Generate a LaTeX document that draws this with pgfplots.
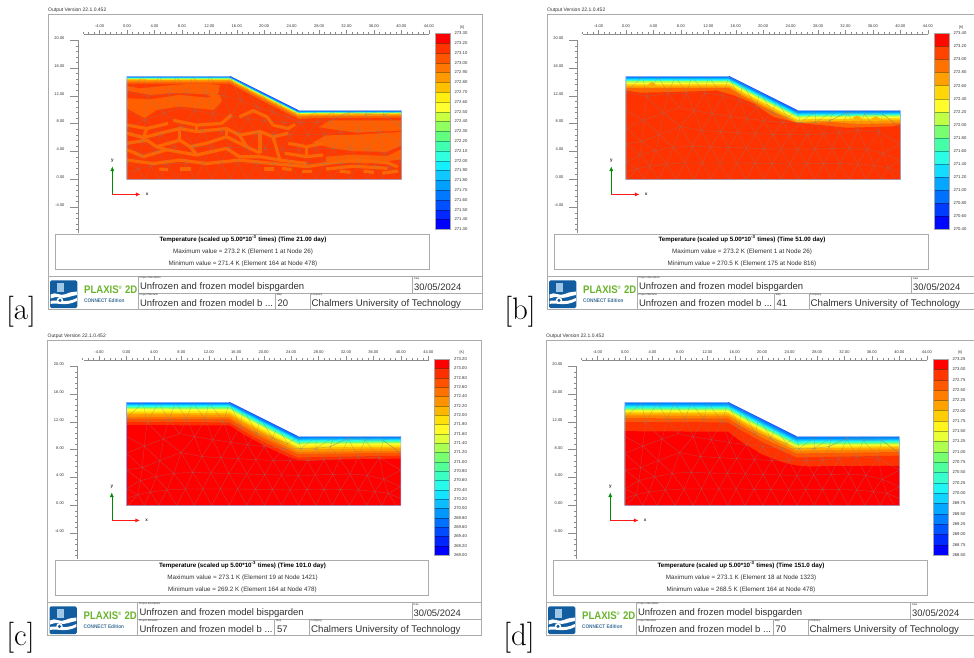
\documentclass[border=0pt]{standalone}
\usepackage{fontspec}
\usepackage{pgfplots}
\pgfplotsset{compat=1.18}
\usetikzlibrary{arrows.meta}
\newfontfamily\arial{Liberation Sans}
\newcommand\fs[1]{\fontsize{#1}{#1}\selectfont}
\pgfplotsset{colormap={pl}{rgb255(0)=(255,0,0) rgb255(25)=(255,0,0) rgb255(75)=(255,51,0) rgb255(125)=(255,85,0) rgb255(175)=(255,119,0) rgb255(225)=(255,153,0) rgb255(275)=(255,192,0) rgb255(325)=(255,238,16) rgb255(375)=(255,255,48) rgb255(425)=(200,255,64) rgb255(475)=(144,255,96) rgb255(525)=(96,255,128) rgb255(575)=(64,255,176) rgb255(625)=(48,255,224) rgb255(675)=(21,240,255) rgb255(725)=(16,200,255) rgb255(775)=(0,160,255) rgb255(825)=(0,120,255) rgb255(875)=(0,80,255) rgb255(925)=(0,40,255) rgb255(975)=(0,0,255) rgb255(1000)=(0,0,255)}}
\definecolor{fr}{HTML}{ABABAB}
\definecolor{rul}{HTML}{8C8C8C}
\definecolor{txt}{HTML}{303030}
\definecolor{modelb}{HTML}{8FA6F2}
\definecolor{webc}{RGB}{255,102,0}
\pgfplotsset{
  panel/.style={
    scale only axis,width=351pt,height=198.4pt,anchor=south west,clip=false,
    xmin=-7.14,xmax=44.03,ymin=-7.67,ymax=20.83,
    axis x line*=top,axis y line*=left,
    x axis line style={draw=rul,line width=.35pt,shorten <=6pt},
    y axis line style={draw=rul,line width=.35pt,shorten >=5.8pt},
    tick style={draw=rul,line width=.3pt},
    xtick={-6.4,-5.6,...,44},ytick={-7.2,-6.4,...,20},
    xticklabels={},yticklabels={},
    minor tick num=0,tick align=outside,
    major tick length=2.4pt,
    extra x ticks={-4,0,...,44},
    extra x tick style={major tick length=4pt},
    extra y ticks={-4,0,...,20},
    extra y tick style={major tick length=7.6pt},
    tick label style={font=\arial\fs{4},text=txt},
    xticklabel style={yshift=-.5pt},
    yticklabel style={xshift=-2.4pt,yshift=2pt},
    /pgf/number format/.cd,fixed,fixed zerofill,precision=2,assume math mode=true,1000 sep={},
    /pgfplots/.cd,
    y filter/.expression={0.986*y},
    no markers,
  },
  web/.style={draw=webc,line width=3.2pt,line join=round},
  blob/.style={color of colormap={#1 of pl},fill=.,draw=none},
  mesh line/.style={draw=gray,opacity=.55,line width=.32pt},
}
\newcommand\band[2]{\addplot[color of colormap={#1 of pl},fill=.,draw=none] coordinates {#2 (40,0) (0,0)} -- cycle;}
\newcommand\surfacefill{\addplot[color of colormap={810 of pl},fill=.,draw=none] coordinates {(0,0)(0,15)(15,15)(25,10)(40,10)(40,0)} -- cycle;}
\newcommand\finish{%
  \addplot[mesh line] coordinates {(0,1)(1.65,1.55)(3.5,1.94)(5.9,2.23)(8.6,2.38)(11.15,2.38)(13.7,2.38)(16.2,2.38)(18.8,2.33)(21.3,2.28)(23.85,2.23)(26.3,2.28)(28.8,2.33)(31.2,2.28)(33.8,2.23)(36.2,2)(38.15,1.75)(40,1)};
  \addplot[mesh line] coordinates {(0,2.43)(2.04,3.6)(4.3,4.17)(6.9,4.66)(9.65,4.8)(12.3,4.7)(14.9,4.66)(17.55,4.56)(20.15,4.47)(22.6,4.42)(25.06,4.37)(27.5,4.42)(30.05,4.5)(32.6,4.56)(35.1,4.37)(37.5,3.8)(40,2.7)};
  \addplot[mesh line] coordinates {(0,5.15)(2.3,5.5)(4.85,6.5)(7.95,7.7)(11,7.1)(13.8,6.94)(16.3,6.8)(18.9,6.65)(21.4,6.55)(23.85,6.5)(26.4,6.5)(28.8,6.6)(31.1,6.8)(33.8,7.1)(36.9,6.9)(40,5.15)};
  \addplot[mesh line] coordinates {(0,7.57)(2.6,8.64)(5.4,9.66)(7.75,10.44)(9.94,10)(12.6,9.56)(15.2,9.17)(17.64,8.83)(20.07,8.54)(22.9,8.3)(25.4,8.25)(27.6,8.3)(29.7,8.54)(32.3,9.7)(34.75,9.5)(37.4,9.5)(40,7.57)};
  \addplot[mesh line] coordinates {(0,12.7)(3,12.1)(6.15,12.5)(8.8,12.57)(11.5,12.57)(14.15,12.2)(16.6,11.5)(19,10.5)(21.3,9.8)(23.5,9)(25.4,8.25)};
  \addplot[mesh line] coordinates {(0,12.7)(2.4,15)(3,12.1)(4.7,15)(6.15,12.5)(7.2,15)(8.8,12.57)(9.6,15)(11.5,12.57)(12,15)(14.15,12.2)(15,15)(16.6,11.5)(17,14)(19,10.5)(19.5,12.75)(21.3,9.8)(22,11.5)(23.5,9)(25,10)(25.4,8.25)(27.7,10)(27.6,8.3)(30.3,10)(29.7,8.54)(32.5,10)(32.3,9.7)(35,10)(34.75,9.5)(37.5,10)(37.4,9.5)(40,10)};
  \addplot[mesh line] coordinates {(0,10)(2.6,8.64)(3,12.1)(5.4,9.66)(6.15,12.5)(7.75,10.44)(8.8,12.57)(9.94,10)(11.5,12.57)(12.6,9.56)(14.15,12.2)(15.2,9.17)(16.6,11.5)(17.64,8.83)(19,10.5)(20.07,8.54)(21.3,9.8)(22.9,8.3)(23.5,9)};
  \addplot[mesh line] coordinates {(0,7.57)(2.3,5.5)(2.6,8.64)(4.85,6.5)(5.4,9.66)(7.95,7.7)(9.94,10)(11,7.1)(12.6,9.56)(13.8,6.94)(15.2,9.17)(16.3,6.8)(17.64,8.83)(18.9,6.65)(20.07,8.54)(21.4,6.55)(22.9,8.3)(23.85,6.5)(25.4,8.25)(26.4,6.5)(27.6,8.3)(28.8,6.6)(29.7,8.54)(31.1,6.8)(32.3,9.7)(33.8,7.1)(34.75,9.5)(36.9,6.9)(37.4,9.5)(40,7.57)};
  \addplot[mesh line] coordinates {(0,5.15)(2.04,3.6)(2.3,5.5)(4.3,4.17)(4.85,6.5)(6.9,4.66)(7.95,7.7)(9.65,4.8)(11,7.1)(12.3,4.7)(13.8,6.94)(14.9,4.66)(16.3,6.8)(17.55,4.56)(18.9,6.65)(20.15,4.47)(21.4,6.55)(22.6,4.42)(23.85,6.5)(25.06,4.37)(26.4,6.5)(27.5,4.42)(28.8,6.6)(30.05,4.5)(31.1,6.8)(32.6,4.56)(33.8,7.1)(35.1,4.37)(36.9,6.9)(37.5,3.8)(40,5.15)};
  \addplot[mesh line] coordinates {(0,2.43)(1.65,1.55)(2.04,3.6)(3.5,1.94)(4.3,4.17)(5.9,2.23)(6.9,4.66)(8.6,2.38)(9.65,4.8)(11.15,2.38)(12.3,4.7)(13.7,2.38)(14.9,4.66)(16.2,2.38)(17.55,4.56)(18.8,2.33)(20.15,4.47)(21.3,2.28)(22.6,4.42)(23.85,2.23)(25.06,4.37)(26.3,2.28)(27.5,4.42)(28.8,2.33)(30.05,4.5)(31.2,2.28)(32.6,4.56)(33.8,2.23)(35.1,4.37)(36.2,2)(37.5,3.8)(38.15,1.75)(40,2.7)};
  \addplot[mesh line] coordinates {(0.2,0)(1.65,1.55)(2.6,0)(3.5,1.94)(4.7,0)(5.9,2.23)(7.3,0)(8.6,2.38)(9.9,0)(11.15,2.38)(12.4,0)(13.7,2.38)(15,0)(16.2,2.38)(17.5,0)(18.8,2.33)(20.1,0)(21.3,2.28)(22.6,0)(23.85,2.23)(25.1,0)(26.3,2.28)(27.6,0)(28.8,2.33)(30,0)(31.2,2.28)(32.5,0)(33.8,2.23)(35,0)(36.2,2)(37.2,0)(38.15,1.75)(39.3,0)};
  \addplot[draw=modelb,line width=.6pt] coordinates {(0,0)(0,15)(15,15)(25,10)(40,10)(40,0)} -- cycle;
  \addplot[draw={rgb,255:red,20;green,80;blue,255},line width=.8pt] coordinates {(15,15)(25,10)};
  \addplot[draw=green!55!black,line width=.35pt,-{Latex[length=4.5pt,width=4pt]}] coordinates {(-2.14,-2.2)(-2.14,1.85)};
  \addplot[draw=red!90!white,line width=.35pt,-{Latex[length=4.5pt,width=4pt]}] coordinates {(-2.14,-2.2)(1.95,-2.2)};
  \node[font=\arial\bfseries\fs{4.6},text=txt] at (axis cs:-2.14,2.6) {y};
  \node[font=\arial\bfseries\fs{4.6},text=txt] at (axis cs:2.95,-2.2) {x};
}
\newcommand\cbar[5]{%
\begin{axis}[at={(#1pt,-#2pt)},anchor=south west,scale only axis,width=15.3pt,height=196pt,
  xmin=0,xmax=1,ymin=0,ymax=#3,clip=false,axis x line=none,axis y line*=right,
  y axis line style={draw=none},major tick length=0pt,
  ytick={0,...,#3},yticklabels={#4},
  yticklabel style={font=\arial\fs{4.2},text=txt,anchor=west,xshift=1pt},
  no markers]
\foreach \i in {1,...,#3}{%
  \pgfmathsetmacro\tval{(\i-0.5)/#3*1000}%
  \pgfmathtruncatemacro\lo{#3-\i}%
  \pgfmathtruncatemacro\hi{#3-\i+1}%
  \edef\temp{\noexpand\addplot[color of colormap={\tval\space of pl},fill=.,draw=.!65!black,line width=.25pt] coordinates {(0,\lo)(1,\lo)(1,\hi)(0,\hi)} -- cycle;}\temp
}
\draw[draw=gray!70,line width=.4pt] (axis cs:0,0) rectangle (axis cs:1,#3);
\node[font=\arial\fs{3.6},text=txt,anchor=west] at ([xshift=6.5pt,yshift=6pt]axis cs:1,#3) {[K]};
\end{axis}}
\newcommand\chrome[7]{%
\begin{scope}[shift={(#1pt,-#2pt)},x=1pt,y=-1pt]
  \draw[fr,line width=.7pt] (48,14) rectangle (482,309);
  \draw[fr,line width=.7pt] (55.7,234.3) rectangle (429.3,269.3);
  \draw[fr,line width=.7pt] (48,276.3)--(482,276.3) (138.3,293)--(482,293) (138.3,276.3)--(138.3,309) (412.7,276.3)--(412.7,293) (275.3,293)--(275.3,309) (310,293)--(310,309);
  \node[anchor=west,inner sep=0,font=\arial\fs{5},text=txt] at (48,10.3) {Output Version 22.1.0.452};
  \node[inner sep=0,font=\arial\bfseries\fs{6.2},text=black] at (243,239) {Temperature (scaled up 5.00*10\textsuperscript{-3} times) (Time #3 day)};
  \node[inner sep=0,font=\arial\fs{6.3},text=txt] at (243,252.3) {#4};
  \node[inner sep=0,font=\arial\fs{6.3},text=txt] at (243,264.3) {#5};
  \node[anchor=west,inner sep=0,font=\arial\fs{2.6},text=txt] at (139.3,278.2) {Project description};
  \node[anchor=west,inner sep=0,font=\arial\fs{2.6},text=txt] at (139.3,295) {Project filename};
  \node[anchor=west,inner sep=0,font=\arial\fs{2.6},text=txt] at (276.3,295) {Step};
  \node[anchor=west,inner sep=0,font=\arial\fs{2.6},text=txt] at (311,295) {Company};
  \node[anchor=west,inner sep=0,font=\arial\fs{2.6},text=txt] at (413.7,278.2) {Date};
  \node[anchor=west,inner sep=0,font=\arial\fs{9.5},text=txt] at (139.8,286.8) {Unfrozen and frozen model bispgarden};
  \node[anchor=west,inner sep=0,font=\arial\fs{9.4},text=txt] at (414,286.8) {30/05/2024};
  \node[anchor=west,inner sep=0,font=\arial\fs{9.5},text=txt] at (139.8,303.5) {Unfrozen and frozen model b ...};
  \node[anchor=west,inner sep=0,font=\arial\fs{9.5},text=txt] at (277.3,303.5) {#6};
  \node[anchor=west,inner sep=0,font=\arial\fs{9.7},text=txt] at (311.5,303.5) {Chalmers University of Technology};
  % logo
  \fill[rounded corners=1.5pt,fill={rgb,255:red,18;green,92;blue,160}] (50,280.3) rectangle (77.3,308);
  \fill[fill={rgb,255:red,160;green,200;blue,230}] (57,282.5) rectangle (64,292);
  \fill[white] (50.5,294.5) .. controls (56,291) and (60,297) .. (66,294) .. controls (70,292) and (73,292) .. (76.8,291.5) -- (76.8,295) .. controls (70,296) and (66,299) .. (60,297.5) .. controls (56,296.5) and (53,297.5) .. (50.5,298.5) -- cycle;
  \fill[white] (50.5,301) .. controls (56,299) and (66,304) .. (76.8,298) -- (76.8,301) .. controls (66,307) and (56,302) .. (50.5,304) -- cycle;
  \fill[white] (60,300.3) circle (3.2);
  \fill[fill={rgb,255:red,18;green,92;blue,160}] (60,300.3) circle (1.7);
  \node[anchor=west,inner sep=0,font=\arial\bfseries\fs{11},xscale=.87,text={rgb,255:red,106;green,180;blue,45}] at (84,290) {PLAXIS\textsuperscript{\fs{5}®} 2D};
  \node[anchor=west,inner sep=0,font=\arial\bfseries\fs{5.2},xscale=.9,text={rgb,255:red,60;green,110;blue,150}] at (84,300.8) {CONNECT Edition};
  \node[inner sep=0,font=\fs{31}] at (21,312) {[#7]};
\end{scope}}
\begin{document}
\begin{tikzpicture}
\path[use as bounding box] (0,0) rectangle (974pt,-657pt);
\chrome{0}{0}{21.00}{Maximum value = 273.2 K (Element 1 at Node 26)}{Minimum value = 271.4 K (Element 164 at Node 478)}{20}{a}
\chrome{499}{0}{51.00}{Maximum value = 273.2 K (Element 1 at Node 26)}{Minimum value = 270.5 K (Element 175 at Node 816)}{41}{b}
\chrome{-.5}{326}{101.0}{Maximum value = 273.1 K (Element 19 at Node 1421)}{Minimum value = 269.2 K (Element 164 at Node 478)}{57}{c}
\chrome{498}{326}{151.0}{Maximum value = 273.1 K (Element 18 at Node 1323)}{Minimum value = 268.5 K (Element 164 at Node 478)}{70}{d}
% panel a
\begin{axis}[panel,at={(78pt,-232.7pt)}]
\surfacefill
\band{720}{(0,14.84)(15,14.84)(17,13.82)(20,12.32)(23,10.82)(25,9.82)(27,9.83)(40,9.84)}
\band{560}{(0,14.76)(15,14.76)(17,13.74)(20,12.22)(23,10.72)(25,9.72)(27,9.75)(40,9.77)}
\band{400}{(0,14.68)(15,14.67)(17,13.65)(20,12.13)(23,10.63)(25,9.63)(27,9.66)(40,9.69)}
\band{280}{(0,14.58)(15,14.57)(17,13.54)(20,12.02)(23,10.52)(25,9.52)(27,9.56)(40,9.59)}
\band{220}{(0,14.45)(15,14.44)(17,13.4)(20,11.87)(23,10.37)(25,9.37)(27,9.42)(40,9.47)}
\band{150}{(0,14.25)(15,14.24)(17,13.18)(20,11.64)(23,10.14)(25,9.14)(27,9.21)(40,9.27)}
\band{85}{(0,13.95)(15,13.93)(17,12.85)(20,11.29)(23,9.79)(25,8.79)(27,8.9)(40,8.98)}
\addplot[blob=140] coordinates {(0,13.6)(1.9,13.25)(6.75,13.74)(10.6,14)(13.55,13.74)(13.1,11.55)(11.6,12.4)(6.75,12.6)(3.35,12.3)(0,12.9)} -- cycle;
\addplot[blob=140] coordinates {(0,11.8)(3.35,11.65)(7.7,12.3)(11.6,11.9)(13.55,12.3)(13.8,11.3)(12.6,10.1)(7.7,10.6)(4.3,10.1)(2.6,8.9)(0,10.3)} -- cycle;
\addplot[blob=140] coordinates {(29.6,8.6)(40,8.6)(40,7.1)(33.5,6.8)(30.5,7.2)(28,7.6)} -- cycle;
\addplot[blob=140] coordinates {(29,6.4)(33.5,6.5)(40,6.9)(40,4.9)(37.85,4)(33,4.1)(30,4.5)(27,5.3)} -- cycle;
\addplot[blob=140] coordinates {(29,3.3)(33,3.6)(38,3.4)(40,4.4)(40,2.9)(35,2.3)(29,2.6)} -- cycle;
\addplot[web] coordinates {(0,7.9)(2.9,7.4)(6,8.15)};
\addplot[web] coordinates {(6.75,8.6)(10.15,7.9)(13.8,8.15)(15.25,9.4)};
\addplot[web] coordinates {(0,6.7)(2.4,6.1)(4.8,6.7)(7.7,7.4)(10.15,6.95)(14.5,7.4)(16.4,6.45)(19.4,6.95)(21.3,6.2)(23.5,6.7)};
\addplot[web] coordinates {(0,5.25)(2.9,5.7)(4.3,4.75)(7.7,5.7)(9.2,4.75)(11.6,5.25)(14.5,6.2)(17.45,4.75)(19.4,3.8)};
\addplot[web] coordinates {(0,4.3)(2.4,3.3)(5.8,4.3)(10.15,3.55)(14.5,4.5)(16.4,3.3)(19.4,3.3)(22.3,2.8)(26.2,2.3)};
\addplot[web] coordinates {(0,2.8)(3.85,2.3)(7.7,2.8)(11.6,2.3)(16.4,2.8)(21.3,2.3)(26.2,1.85)(29.1,2.3)(33.5,2.8)};
\addplot[web] coordinates {(16.4,9.1)(18.4,10)(20.4,9.1)(21.3,7.9)(23.5,7.4)(24.5,8)};
\addplot[web] coordinates {(23.5,5.25)(26.2,4.75)(28.6,5.25)};
\addplot[web] coordinates {(23,3.8)(26.2,3.3)(28.6,3.55)};
\addplot[web] coordinates {(2.9,7.4)(2.4,6.1)};
\addplot[web] coordinates {(7.7,7.4)(7.7,5.7)};
\addplot[web] coordinates {(10.15,7.9)(10.15,6.95)};
\addplot[web] coordinates {(14.5,7.4)(14.5,6.2)};
\addplot[web] coordinates {(4.3,4.75)(5.8,4.3)};
\addplot[web] coordinates {(9.2,4.75)(10.15,3.55)};
\addplot[web] coordinates {(19.4,6.95)(19.4,3.8)};
\addplot[web] coordinates {(21.3,6.2)(22.3,2.8)};
\addplot[web] coordinates {(16.4,6.45)(17.45,4.75)};
\addplot[web] coordinates {(26.2,4.75)(26.2,3.3)};
\addplot[web] coordinates {(33.5,2.8)(38,2.4)(39.5,1.8)};
\addplot[web] coordinates {(29,1.5)(33,1.9)(38,1.6)};
\addplot[web] coordinates {(4.7,1.5)(6,1.4)};
\addplot[web] coordinates {(7.7,1.5)(9.4,1.5)};
\addplot[web] coordinates {(20,1.5)(21.4,1.5)};
\addplot[web] coordinates {(22.6,1.6)(24,1.4)};
\addplot[web] coordinates {(25.5,1.1)(27,1.1)};
\addplot[web] coordinates {(31,1.2)(32.6,1)};
\addplot[web] coordinates {(34.5,1.2)(36,1)};
\addplot[web] coordinates {(37.2,.9)(39.5,1.2)};
\finish
\end{axis}
\cbar{434.7}{229.3}{20}{271.30,271.40,271.50,271.60,271.70,271.80,271.90,272.00,272.10,272.20,272.30,272.40,272.50,272.60,272.70,272.80,272.90,273.00,273.10,273.20,273.30}{}
% panel b
\begin{axis}[panel,at={(577pt,-232.7pt)}]
\surfacefill
\band{750}{(0,14.75)(15,14.75)(17,13.73)(20,12.21)(23,10.71)(25,9.71)(27,9.74)(40,9.76)}
\band{690}{(0,14.6)(15,14.59)(17,13.56)(20,12.04)(23,10.54)(25,9.54)(27,9.58)(40,9.61)}
\band{600}{(0,14.45)(15,14.44)(17,13.4)(20,11.87)(23,10.37)(25,9.37)(27,9.42)(40,9.47)}
\band{450}{(0,14.3)(15,14.29)(17,13.23)(20,11.7)(23,10.2)(25,9.2)(27,9.27)(40,9.32)}
\band{370}{(0,14.1)(15,14.08)(17,13.01)(20,11.47)(23,9.97)(25,8.97)(27,9.06)(40,9.13)}
\band{280}{(0,13.85)(15,13.83)(17,12.74)(20,11.18)(23,9.68)(25,8.68)(27,8.79)(40,8.88)}
\band{220}{(0,13.55)(15,13.52)(17,12.41)(20,10.83)(23,9.33)(25,8.33)(27,8.48)(40,8.59)}
\band{150}{(0,13.3)(15,13.27)(17,12.13)(20,10.55)(23,9.05)(25,8.15)(27,8.22)(30,8.35)(34,8.05)(40,8.2)}
\band{75}{(0,12.96)(2,12.62)(5.9,12.7)(11.8,12.87)(13.2,12.96)(15.7,12.23)(18.6,11.03)(21.5,9.08)(24.9,8.25)(28.8,7.86)(32.2,7.52)(36.1,7.62)(39,7.72)(40,8)}
\addplot[blob=260] coordinates {(3.1,13.7)(3.8,14.2)(4.5,13.7)(3.8,13.3)} -- cycle;
\addplot[blob=260] coordinates {(33,8.9)(33.7,9.3)(34.4,8.9)(33.7,8.5)} -- cycle;
\addplot[blob=260] coordinates {(35.7,8.8)(36.4,9.2)(37.1,8.8)(36.4,8.3)} -- cycle;
\finish
\end{axis}
\cbar{933.7}{229.3}{15}{270.40,270.60,270.80,271.00,271.20,271.40,271.60,271.80,272.00,272.20,272.40,272.60,272.80,273.00,273.20,273.40}{}
% panel c
\begin{axis}[panel,at={(77.5pt,-558.7pt)}]
\surfacefill
\band{750}{(0,14.75)(15,14.75)(17,13.73)(20,12.21)(23,10.71)(25,9.71)(27,9.74)(40,9.76)}
\band{690}{(0,14.6)(15,14.59)(17,13.56)(20,12.04)(23,10.54)(25,9.54)(27,9.58)(40,9.61)}
\band{620}{(0,14.45)(15,14.44)(17,13.4)(20,11.87)(23,10.37)(25,9.37)(27,9.42)(40,9.47)}
\band{540}{(0,14.3)(15,14.29)(17,13.23)(20,11.7)(23,10.2)(25,9.2)(27,9.27)(40,9.32)}
\band{450}{(0,14.15)(15,14.13)(17,13.07)(20,11.52)(23,10.02)(25,9.02)(27,9.11)(40,9.18)}
\band{370}{(0,14)(15,13.98)(17,12.9)(20,11.35)(23,9.85)(25,8.85)(27,8.95)(40,9.03)}
\band{320}{(0,13.75)(15,13.73)(17,12.63)(20,11.06)(23,9.56)(25,8.56)(27,8.69)(40,8.79)}
\band{270}{(0,13.5)(15,13.47)(17,12.35)(20,10.78)(23,9.28)(25,8.3)(27,8.43)(40,8.55)}
\band{220}{(0,13.25)(15,13.22)(17,12.08)(20,10.49)(23,9.05)(25,8.1)(27,8.16)(40,8.3)}
\band{170}{(0,12.9)(15,12.86)(17,11.69)(20,10.09)(23,8.7)(25,7.75)(27,7.8)(40,7.96)}
\band{120}{(0,12.6)(15,12.55)(17,11.36)(20,9.74)(23,8.35)(25,7.45)(27,7.48)(40,7.67)}
\band{70}{(0,12.15)(15,12.09)(17,10.87)(20,9.22)(23,7.85)(25,6.95)(27,7.01)(40,7.24)}
\band{15}{(0,11.7)(15,11.63)(17,10.37)(20,8.7)(23,7.3)(25,6.55)(27,6.5)(29,6.65)(40,6.8)}
\finish
\end{axis}
\cbar{434.2}{555}{21}{269.00,269.20,269.40,269.60,269.80,270.00,270.20,270.40,270.60,270.80,271.00,271.20,271.40,271.60,271.80,272.00,272.20,272.40,272.60,272.80,273.00,273.20}{}
% panel d
\begin{axis}[panel,at={(576pt,-558.7pt)}]
\surfacefill
\band{760}{(0,14.7)(15,14.69)(17,13.67)(20,12.16)(23,10.66)(25,9.66)(27,9.69)(40,9.71)}
\band{720}{(0,14.55)(15,14.54)(17,13.51)(20,11.98)(23,10.48)(25,9.48)(27,9.53)(40,9.56)}
\band{650}{(0,14.4)(15,14.39)(17,13.34)(20,11.81)(23,10.31)(25,9.31)(27,9.37)(40,9.42)}
\band{580}{(0,14.25)(15,14.24)(17,13.18)(20,11.64)(23,10.14)(25,9.14)(27,9.21)(40,9.27)}
\band{500}{(0,14.1)(15,14.08)(17,13.01)(20,11.47)(23,9.97)(25,8.97)(27,9.06)(40,9.13)}
\band{420}{(0,13.95)(15,13.93)(17,12.85)(20,11.29)(23,9.79)(25,8.79)(27,8.9)(40,8.98)}
\band{360}{(0,13.8)(15,13.78)(17,12.68)(20,11.12)(23,9.62)(25,8.62)(27,8.74)(40,8.84)}
\band{300}{(0,13.6)(15,13.57)(17,12.46)(20,10.89)(23,9.39)(25,8.39)(27,8.53)(40,8.64)}
\band{250}{(0,13.4)(15,13.37)(17,12.24)(20,10.66)(23,9.16)(25,8.2)(27,8.32)(40,8.45)}
\band{190}{(0,13.1)(15,13.06)(17,11.91)(20,10.32)(23,8.9)(25,7.95)(27,8.01)(40,8.16)}
\band{130}{(0,12.7)(15,12.65)(17,11.47)(20,9.86)(23,8.45)(25,7.55)(27,7.59)(40,7.77)}
\band{75}{(0,12.15)(15,12.09)(17,10.87)(20,9.22)(23,7.85)(25,6.95)(27,7.01)(40,7.24)}
\band{15}{(0,10.8)(15,10.72)(17,9.2)(20,7.4)(23,6.25)(25,5.8)(27,5.65)(29,5.7)(40,5.75)}
\finish
\end{axis}
\cbar{932.7}{555}{19}{268.50,268.75,269.00,269.25,269.50,269.75,270.00,270.25,270.50,270.75,271.00,271.25,271.50,271.75,272.00,272.25,272.50,272.75,273.00,273.25}{}
\end{tikzpicture}
\end{document}
